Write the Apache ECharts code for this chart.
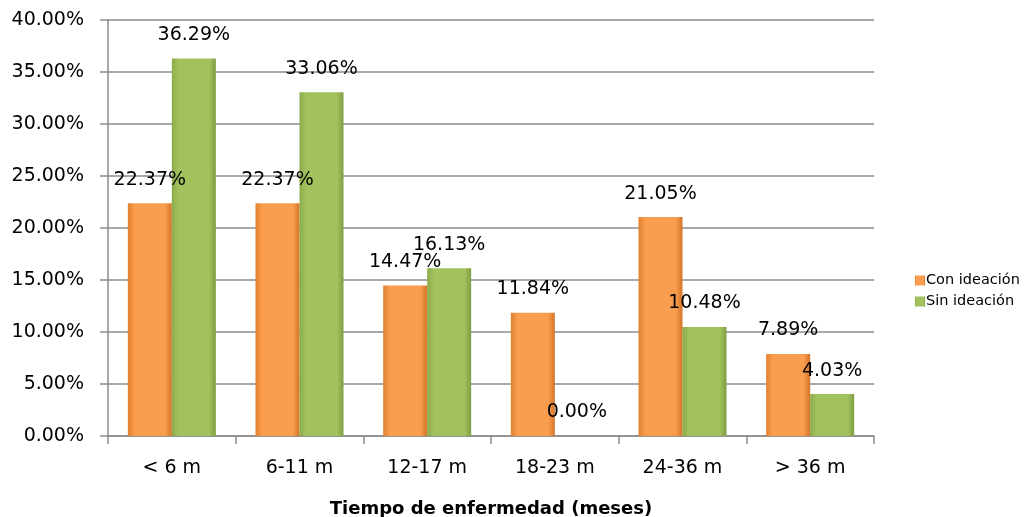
<!DOCTYPE html>
<html>
<head>
<meta charset="utf-8">
<script src="https://cdn.jsdelivr.net/npm/echarts@6/dist/echarts.min.js"></script>
<style>html,body{margin:0;padding:0;background:#fff}#c{width:1035px;height:517px}</style>
</head>
<body>
<div id="c"></div>
<script>
var categories = ['< 6 m', '6-11 m', '12-17 m', '18-23 m', '24-36 m', '> 36 m'];
var conIdeacion = [22.37, 22.37, 14.47, 11.84, 21.05, 7.89];
var sinIdeacion = [36.29, 33.06, 16.13, 0.00, 10.48, 4.03];
var seriesNames = ['Con ideación', 'Sin ideación'];
var xTitle = 'Tiempo de enfermedad (meses)';

var FONT = 'DejaVu Sans';
function grad(edge, mid, edge2) {
  return new echarts.graphic.LinearGradient(0, 0, 1, 0, [
    {offset: 0, color: edge}, {offset: 0.15, color: mid},
    {offset: 0.85, color: mid}, {offset: 1, color: edge2}
  ]);
}
var chart = echarts.init(document.getElementById('c'));
var lbl = {
  show: true, position: 'top', distance: 14, color: '#000',
  fontFamily: FONT, fontSize: 19,
  formatter: function (p) { return p.value.toFixed(2) + '%'; }
};
chart.setOption({
  animation: false,
  textStyle: {fontFamily: FONT},
  grid: {left: 108, right: 161, top: 20, bottom: 81, containLabel: false, outerBoundsMode: 'none'},
  legend: {
    orient: 'vertical', left: 910, top: 268, itemWidth: 10, itemHeight: 10, itemGap: 6,
    icon: 'rect', textStyle: {fontFamily: FONT, fontSize: 14.5, color: '#000', padding: [0, 0, 0, -4]},
    data: seriesNames
  },
  xAxis: {
    type: 'category', data: categories,
    name: xTitle, nameLocation: 'middle', nameGap: 64,
    nameTextStyle: {fontFamily: FONT, fontSize: 18, fontWeight: 'bold', color: '#000'},
    axisLine: {lineStyle: {color: '#8c8c8c', width: 1.5}},
    axisTick: {show: true, length: 8, lineStyle: {color: '#8c8c8c', width: 1.5}},
    axisLabel: {fontFamily: FONT, fontSize: 19, color: '#000', margin: 23}
  },
  yAxis: {
    type: 'value', min: 0, max: 40, interval: 5,
    axisLine: {show: true, lineStyle: {color: '#8c8c8c', width: 1.5}},
    axisTick: {show: true, length: 8, lineStyle: {color: '#8c8c8c', width: 1.5}},
    axisLabel: {fontFamily: FONT, fontSize: 19, color: '#000', margin: 24,
      formatter: function (v) { return v.toFixed(2) + '%'; }},
    splitLine: {lineStyle: {color: '#8c8c8c', width: 1.5}}
  },
  series: [
    {name: seriesNames[0], type: 'bar', data: conIdeacion, barWidth: 44, barGap: '0%',
     itemStyle: {color: grad('#E2802F', '#F99D4E', '#D47329')}, label: lbl},
    {name: seriesNames[1], type: 'bar', data: sinIdeacion, barWidth: 44, barGap: '0%',
     itemStyle: {color: grad('#8BAB4A', '#A2C25E', '#7F9E41')}, label: lbl}
  ]
});
</script>
</body>
</html>
